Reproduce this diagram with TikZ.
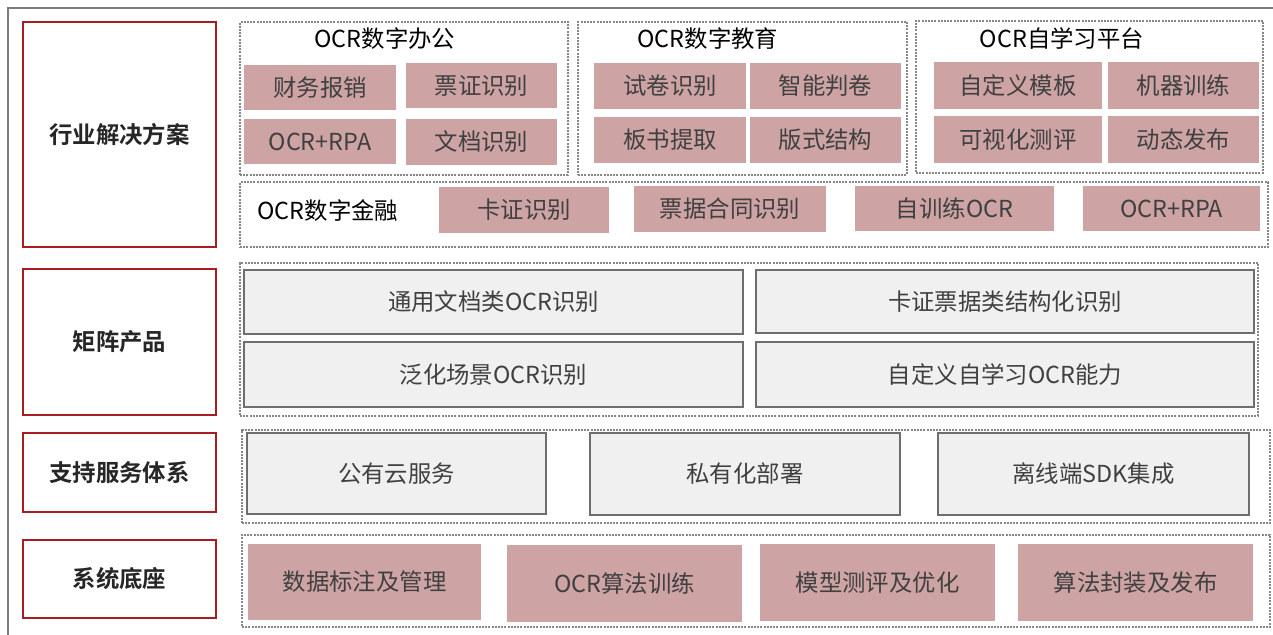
\documentclass[tikz,border=0pt]{standalone}
\usepackage{fontspec}
\setmainfont{Noto Sans CJK SC}[BoldFont={Noto Sans CJK SC Bold}]
\usepackage{tikz}
\usetikzlibrary{positioning,fit}
\definecolor{boxpink}{RGB}{205,163,163}
\definecolor{boxred}{RGB}{168,28,34}
\definecolor{boxgray}{RGB}{240,240,240}
\definecolor{edgegray}{RGB}{110,110,110}
\definecolor{dotgray}{RGB}{135,135,135}
\definecolor{txtgray}{RGB}{64,64,64}
\tikzset{
  every node/.style={font=\fontsize{11.7}{14}\selectfont},
  layer/.style={draw=boxred, line width=1.3pt, inner sep=0pt},
  layertext/.style={font=\fontsize{11.7}{14}\selectfont\bfseries, text=black!85},
  group/.style={draw=dotgray, dash pattern=on 1pt off 0.6pt, line width=1pt, inner sep=0pt},
  pinkbox/.style={fill=boxpink, inner sep=0pt},
  graybox/.style={draw=edgegray, fill=boxgray, line width=1pt, inner sep=0pt},
  boxtext/.style={text=txtgray},
  grouptitle/.style={text=black}
}
\begin{document}
\begin{tikzpicture}[x=0.5pt,y=-0.5pt]
\useasboundingbox (0,0) rectangle (1273,634);
\draw[edgegray!90, line width=1pt] (1280,8) -- (8,8) -- (8,640);

\node[layer, fit={(23,22) (216,247)}, label={[layertext]center:行业解决方案}] (hy) {};
\node[layer, fit={(23,269) (216,415)}, label={[layertext]center:矩阵产品}] (jz) {};
\node[layer, fit={(23,433) (216,512)}, label={[layertext]center:支持服务体系}] (zc) {};
\node[layer, fit={(23,540) (216,618)}, label={[layertext]center:系统底座}] (xt) {};

\node[group, fit={(240,22) (568,175)}] (bg) {};
\node[group, fit={(578,22) (907,175)}] (jy) {};
\node[group, fit={(916,21) (1263,173)}] (zx) {};
\node[group, fit={(240,182) (1268,247)}] (jr) {};
\node[group, fit={(240,263) (1258,416)}] (cp) {};
\node[group, fit={(242,430) (1270,523)}] (fw) {};
\node[group, fit={(242,535) (1270,627)}] (dz) {};

\node[grouptitle] (bgt) at (385,39) {OCR数字办公};
\node[grouptitle] (jyt) at (708,39) {OCR数字教育};
\node[grouptitle] (zxt) at (1062,39) {OCR自学习平台};
\node[grouptitle] (jrt) at (328,211) {OCR数字金融};

\node[pinkbox, fit={(244,65) (396,110)}, label={[boxtext]center:财务报销}] (bg1) {};
\node[pinkbox, fit={(406,63) (557,108)}, label={[boxtext]center:票证识别}] (bg2) {};
\node[pinkbox, fit={(244,119) (396,164)}, label={[boxtext]center:OCR+RPA}] (bg3) {};
\node[pinkbox, fit={(406,119) (557,165)}, label={[boxtext]center:文档识别}] (bg4) {};

\node[pinkbox, fit={(594,63) (746,109)}, label={[boxtext]center:试卷识别}] (jy1) {};
\node[pinkbox, fit={(750,63) (901,109)}, label={[boxtext]center:智能判卷}] (jy2) {};
\node[pinkbox, fit={(594,117) (746,163)}, label={[boxtext]center:板书提取}] (jy3) {};
\node[pinkbox, fit={(750,117) (901,163)}, label={[boxtext]center:版式结构}] (jy4) {};

\node[pinkbox, fit={(934,62) (1102,109)}, label={[boxtext]center:自定义模板}] (zx1) {};
\node[pinkbox, fit={(1108,62) (1259,109)}, label={[boxtext]center:机器训练}] (zx2) {};
\node[pinkbox, fit={(934,116) (1102,163)}, label={[boxtext]center:可视化测评}] (zx3) {};
\node[pinkbox, fit={(1108,116) (1259,163)}, label={[boxtext]center:动态发布}] (zx4) {};

\node[pinkbox, fit={(439,187) (609,233)}, label={[boxtext]center:卡证识别}] (jr1) {};
\node[pinkbox, fit={(634,186) (826,232)}, label={[boxtext]center:票据合同识别}] (jr2) {};
\node[pinkbox, fit={(855,186) (1054,231)}, label={[boxtext]center:自训练OCR}] (jr3) {};
\node[pinkbox, fit={(1083,186) (1260,231)}, label={[boxtext]center:OCR+RPA}] (jr4) {};

\node[graybox, fit={(244,270) (743,334)}, label={[boxtext]center:通用文档类OCR识别}] (cp1) {};
\node[graybox, fit={(756,270) (1254,333)}, label={[boxtext]center:卡证票据类结构化识别}] (cp2) {};
\node[graybox, fit={(244,342) (743,407)}, label={[boxtext]center:泛化场景OCR识别}] (cp3) {};
\node[graybox, fit={(756,342) (1254,407)}, label={[boxtext]center:自定义自学习OCR能力}] (cp4) {};

\node[graybox, fit={(247,433) (546,514)}, label={[boxtext]center:公有云服务}] (fw1) {};
\node[graybox, fit={(590,433) (900,515)}, label={[boxtext]center:私有化部署}] (fw2) {};
\node[graybox, fit={(938,433) (1249,515)}, label={[boxtext]center:离线端SDK集成}] (fw3) {};

\node[pinkbox, fit={(248,544) (481,620)}, label={[boxtext]center:数据标注及管理}] (dz1) {};
\node[pinkbox, fit={(507,545) (742,622)}, label={[boxtext]center:OCR算法训练}] (dz2) {};
\node[pinkbox, fit={(760,544) (995,621)}, label={[boxtext]center:模型测评及优化}] (dz3) {};
\node[pinkbox, fit={(1018,544) (1253,621)}, label={[boxtext]center:算法封装及发布}] (dz4) {};
\end{tikzpicture}
\end{document}
